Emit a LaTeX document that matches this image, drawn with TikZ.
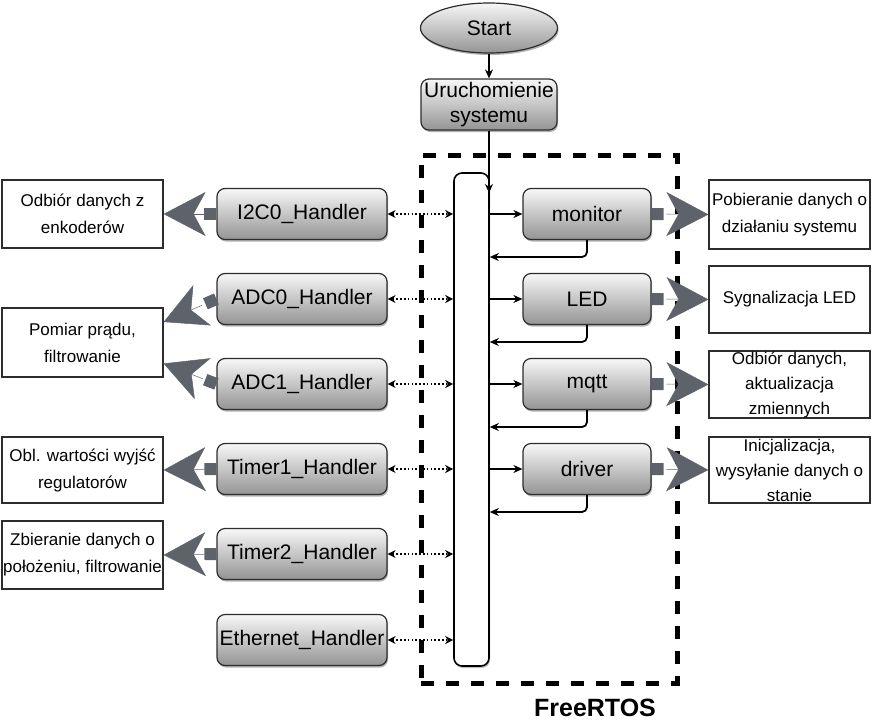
\documentclass[tikz,border=0pt]{standalone}
\usepackage{fontspec}
\setmainfont{Liberation Sans}
\usetikzlibrary{arrows.meta,calc,shadows,shapes.geometric}
\definecolor{arrgray}{RGB}{94,99,107}
\definecolor{bordergray}{RGB}{45,45,45}
\newcommand\grarrow[2]{%
  \draw[grshaft] (#1) -- ($(#1)!12pt!(#2)$);
  \draw[grhead] ($(#2)!42pt!(#1)$) -- (#2);}
\begin{document}
\begin{tikzpicture}[x=1pt,y=-1pt,
  shd/.style={top color=black!3, bottom color=black!42, drop shadow={shadow xshift=1pt, shadow yshift=-2pt, opacity=0.3, fill=black}},
  proc/.style={shd, draw=bordergray, line width=1.2pt, rounded corners=8pt, minimum width=170pt, minimum height=51pt, inner sep=0pt, font=\fontsize{21}{25}\selectfont, align=center},
  task/.style={proc, minimum width=128pt},
  desc/.style={draw=bordergray, line width=1.2pt, fill=white, minimum width=161pt, inner sep=0pt, align=center, font=\fontsize{17}{27}\selectfont},
  blk/.style={line width=1.8pt, -{Stealth[length=9pt,width=8pt]}},
  dots/.style={line width=1.8pt, dash pattern=on 1.6pt off 2.2pt, {Stealth[length=8pt,width=8pt]}-{Stealth[length=8pt,width=8pt]}},
  grshaft/.style={draw=arrgray, line width=12pt},
  grhead/.style={draw=arrgray, line width=0.5pt, -{Stealth[length=42pt,width=44pt,inset=12pt]}}
]
\useasboundingbox (0,0) rectangle (872,723);

% FreeRTOS frame
\node[draw, line width=5pt, dash pattern=on 13pt off 12pt, minimum width=256pt, minimum height=528pt, inner sep=0pt] (rtos) at (549,419) {};
\node[font=\fontsize{25}{28}\selectfont\bfseries] (rtoslbl) at (595,708) {FreeRTOS};

% top
\node[ellipse, shd, draw=bordergray, line width=1.2pt, minimum width=137pt, minimum height=50pt, inner sep=0pt, font=\fontsize{21}{25}\selectfont] (start) at (489,28) {Start};
\node[proc, minimum width=136pt] (ur) at (489,104.5) {Uruchomienie\\systemu};

% bus
\node[draw, line width=1.6pt, rounded corners=8pt, fill=white, minimum width=35pt, minimum height=493pt, inner sep=0pt, drop shadow={shadow xshift=1pt, shadow yshift=-2pt, opacity=0.25, fill=black}] (bus) at (471.5,419.5) {};
\coordinate (busin) at (489,193);

% handlers
\node[proc] (h1) at (302,214) {I2C0\_Handler};
\node[proc] (h2) at (302,299) {ADC0\_Handler};
\node[proc] (h3) at (302,384) {ADC1\_Handler};
\node[proc] (h4) at (302,469) {Timer1\_Handler};
\node[proc] (h5) at (302,554) {Timer2\_Handler};
\node[proc] (h6) at (302,640) {Ethernet\_Handler};

% tasks
\node[task] (t1) at (587,214) {monitor};
\node[task] (t2) at (587,299) {LED};
\node[task] (t3) at (587,384) {mqtt};
\node[task] (t4) at (587,469) {driver};

% left descriptions
\node[desc, minimum height=68pt] (L1) at (82.5,214) {Odbiór danych z\\enkoderów};
\node[desc, minimum height=69pt] (L2) at (82.5,342.5) {Pomiar prądu,\\filtrowanie};
\node[desc, minimum height=66pt] (L3) at (82.5,470) {Obl. wartości wyjść\\regulatorów};
\node[desc, minimum height=68pt] (L4) at (82.5,555) {Zbieranie danych o\\położeniu, filtrowanie};

% right descriptions
\node[desc, minimum height=69pt] (R1) at (789.5,214.5) {Pobieranie danych o\\działaniu systemu};
\node[desc, minimum height=67pt] (R2) at (789.5,299.5) {Sygnalizacja LED};
\node[desc, minimum height=67pt, font=\fontsize{17}{25}\selectfont] (R3) at (789.5,384.5) {Odbiór danych,\\aktualizacja\\zmiennych};
\node[desc, minimum height=66pt, font=\fontsize{17}{25}\selectfont] (R4) at (789.5,470) {Inicjalizacja,\\wysyłanie danych o\\stanie};

% flow
\draw[blk] (start.south) -- (ur.north);
\draw[blk] (ur.south) -- (busin);

\foreach \t in {t1,t2,t3,t4}{
  \draw[blk] (bus.east |- \t.center) -- (\t.west);
  \draw[blk, rounded corners=5pt] (\t.south) |- ($(bus.east |- \t.center)+(0,43)$);
}

\foreach \h in {h1,h2,h3,h4,h5,h6}{
  \draw[dots] (\h.east) -- (bus.west |- \h.center);
}

% gray arrows
\grarrow{h1.west}{L1.east}
\grarrow{h2.west}{$(L2.east)+(0,-20.5)$}
\grarrow{h3.west}{$(L2.east)+(0,21)$}
\grarrow{h4.west}{L3.east}
\grarrow{h5.west}{L4.east}
\grarrow{t1.east}{R1.west}
\grarrow{t2.east}{R2.west}
\grarrow{t3.east}{R3.west}
\grarrow{t4.east}{R4.west}
\end{tikzpicture}
\end{document}
